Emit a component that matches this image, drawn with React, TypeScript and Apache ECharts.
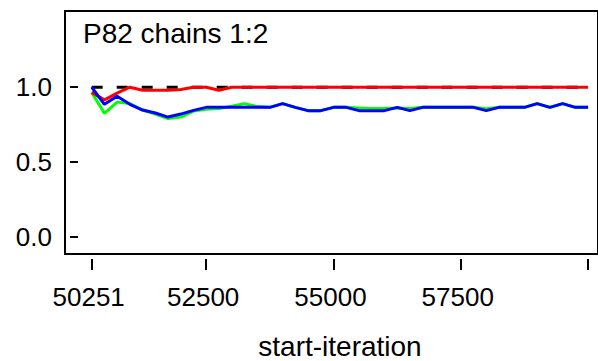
import React, { useEffect, useRef } from "react";
import * as echarts from "echarts";

const iterations = [
  50251, 50501, 50751, 51001, 51251, 51501, 51751, 52001, 52251, 52501,
  52751, 53001, 53251, 53501, 53751, 54001, 54251, 54501, 54751, 55001,
  55251, 55501, 55751, 56001, 56251, 56501, 56751, 57001, 57251, 57501,
  57751, 58001, 58251, 58501, 58751, 59001, 59251, 59501, 59751, 60001,
];

const greenValues = [
  0.965, 0.825, 0.9, 0.89, 0.847, 0.82, 0.79, 0.8, 0.84, 0.853,
  0.858, 0.872, 0.89, 0.87, 0.865, 0.89, 0.865, 0.843, 0.843, 0.865,
  0.865, 0.86, 0.858, 0.858, 0.86, 0.858, 0.865, 0.865, 0.865, 0.865,
  0.865, 0.855, 0.865, 0.865, 0.865, 0.89, 0.865, 0.89, 0.865, 0.865,
];

const blueValues = [
  1.0, 0.885, 0.94, 0.885, 0.847, 0.827, 0.8, 0.82, 0.845, 0.865,
  0.865, 0.865, 0.865, 0.865, 0.865, 0.89, 0.865, 0.843, 0.843, 0.865,
  0.865, 0.843, 0.843, 0.843, 0.865, 0.843, 0.865, 0.865, 0.865, 0.865,
  0.865, 0.843, 0.865, 0.865, 0.865, 0.89, 0.865, 0.89, 0.865, 0.865,
];

const redValues = [
  0.965, 0.915, 0.96, 1.0, 0.98, 0.98, 0.98, 0.985, 1.0, 1.0,
  0.98, 1.0, 1.0, 1.0, 1.0, 1.0, 1.0, 1.0, 1.0, 1.0,
  1.0, 1.0, 1.0, 1.0, 1.0, 1.0, 1.0, 1.0, 1.0, 1.0,
  1.0, 1.0, 1.0, 1.0, 1.0, 1.0, 1.0, 1.0, 1.0, 1.0,
];

const referenceLevel = 1.0;
const xTickValues = [50251, 52500, 55000, 57500, 60000];
const xLabelValues = [50251, 52500, 55000, 57500];
const yTickValues = [0, 0.5, 1.0];
const titleText = "P82 chains 1:2";
const xAxisName = "start-iteration";

const FONT = "'Liberation Sans', Arial, sans-serif";

export default function App() {
  const ref = useRef<HTMLDivElement>(null);
  useEffect(() => {
    document.body.style.margin = "0";
    if (!ref.current) return;
    const chart = echarts.init(ref.current, null, { renderer: "svg" });
    const pair = (vals: number[]) => iterations.map((x, i) => [x, vals[i]]);
    const lineSeries = (name: string, vals: number[], color: string) => ({
      name,
      type: "line",
      data: pair(vals),
      symbol: "none",
      lineStyle: { color, width: 3 },
      silent: true,
    });
    chart.setOption({
      animation: false,
      backgroundColor: "#fff",
      grid: {
        left: 65,
        top: 11,
        right: -3,
        bottom: 107,
        show: true,
        borderColor: "#000",
        borderWidth: 2,
        backgroundColor: "transparent",
      },
      xAxis: {
        type: "value",
        min: 49727,
        max: 60196,
        offset: 5,
        axisLine: { show: false, onZero: false },
        splitLine: { show: false },
        axisTick: {
          show: true,
          length: 11,
          customValues: xTickValues,
          lineStyle: { color: "#000", width: 2 },
        },
        axisLabel: {
          customValues: xLabelValues,
          fontSize: 26,
          fontFamily: FONT,
          color: "#000",
          margin: 25,
          padding: [0, 6, 0, 0],
          formatter: (v: number) => String(v),
        },
      },
      yAxis: {
        type: "value",
        min: -0.1167,
        max: 1.51,
        offset: -5,
        axisLine: { show: false, onZero: false },
        splitLine: { show: false },
        axisTick: {
          show: true,
          inside: true,
          length: 8,
          customValues: yTickValues,
          lineStyle: { color: "#000", width: 2 },
        },
        axisLabel: {
          customValues: yTickValues,
          fontSize: 26,
          fontFamily: FONT,
          color: "#000",
          margin: 18,
          formatter: (v: number) => v.toFixed(1),
        },
      },
      graphic: [
        {
          type: "text",
          x: 83,
          y: 33.5,
          style: {
            text: titleText,
            font: `28px ${FONT}`,
            fill: "#000",
            verticalAlign: "middle",
          },
        },
        {
          type: "text",
          x: 340,
          y: 346,
          style: {
            text: xAxisName,
            font: `28px ${FONT}`,
            fill: "#000",
            align: "center",
            verticalAlign: "middle",
          },
        },
      ],
      series: [
        {
          name: "reference",
          type: "line",
          data: [
            [iterations[0], referenceLevel],
            [iterations[iterations.length - 1], referenceLevel],
          ],
          symbol: "none",
          lineStyle: { color: "#000", width: 3, type: [11, 14] },
          silent: true,
        },
        lineSeries("green", greenValues, "#00ff00"),
        lineSeries("red", redValues, "#ff0000"),
        lineSeries("blue", blueValues, "#0000ff"),
      ],
    });
    return () => chart.dispose();
  }, []);
  return <div ref={ref} style={{ width: 598, height: 361 }} />;
}
